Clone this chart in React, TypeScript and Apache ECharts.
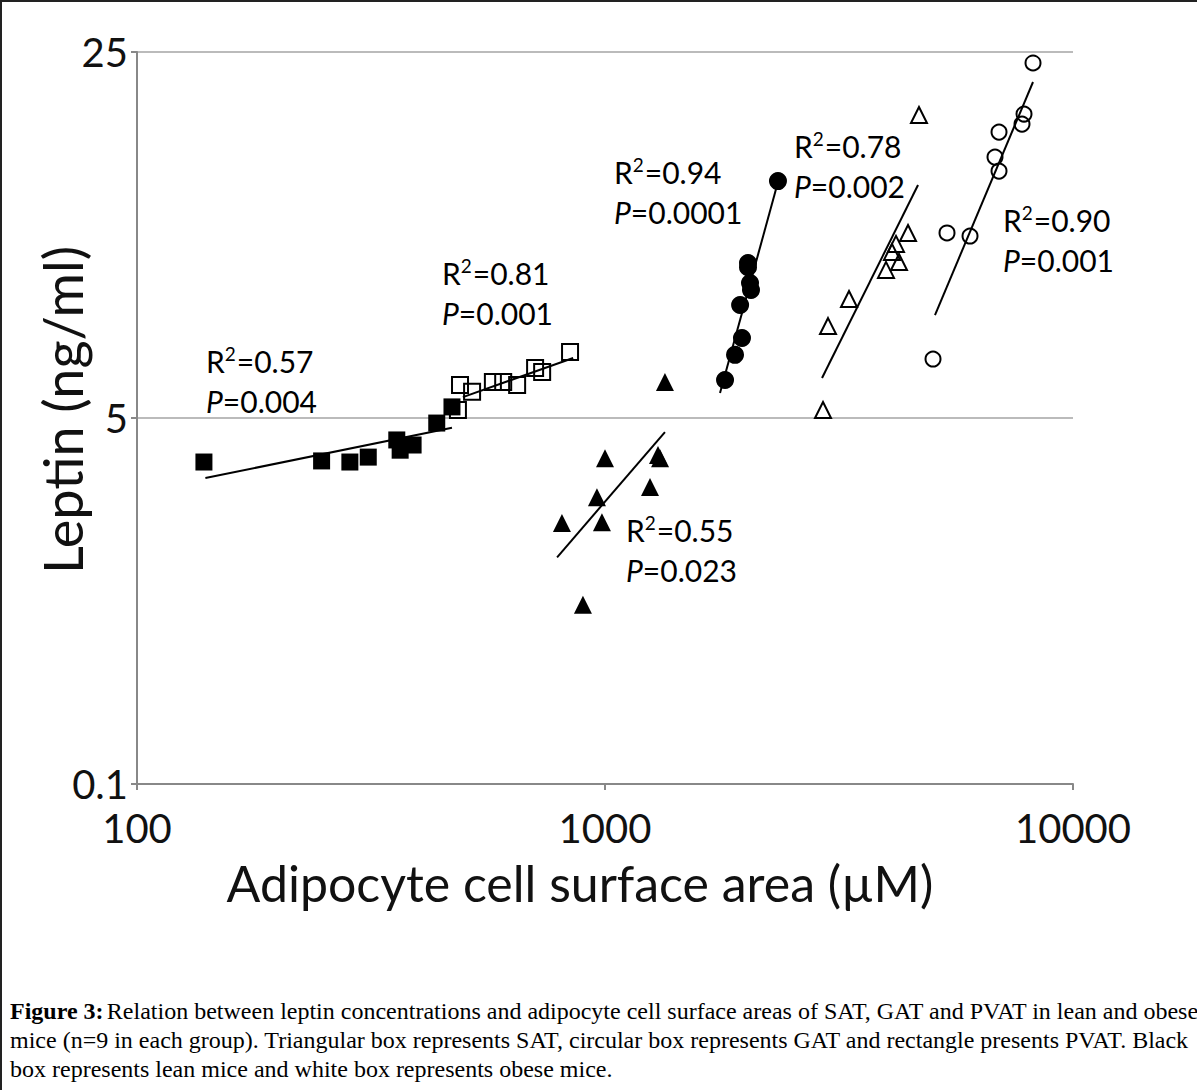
import React, { useEffect, useRef } from "react";
import * as echarts from "echarts";

// ---- data ----
const pvatLeanX = [139, 248, 285, 312, 359, 365, 389, 437, 471];
const pvatLeanY = [4.12, 4.14, 4.12, 4.21, 4.54, 4.34, 4.44, 4.89, 5.25];
const pvatObeseX = [485, 490, 520, 576, 606, 649, 709, 734, 842];
const pvatObeseY = [5.18, 5.78, 5.61, 5.86, 5.86, 5.78, 6.23, 6.12, 6.68];
const satLeanX = [809, 897, 961, 985, 1000, 1248, 1298, 1311, 1343];
const satLeanY = [3.15, 2.2, 3.53, 3.16, 4.19, 3.69, 4.25, 4.19, 5.86];
const gatLeanX = [1805, 1896, 1962, 1944, 2041, 2051, 2021, 2021, 2342];
const gatLeanY = [5.91, 6.6, 7.11, 8.22, 9.05, 8.78, 9.88, 9.7, 14.17];
const satObeseX = [2923, 2996, 3322, 3985, 4104, 4186, 4248, 4441, 4687];
const satObeseY = [5.18, 7.49, 8.44, 9.59, 10.38, 10.75, 9.93, 11.28, 18.95];
const gatObeseX = [5022, 5380, 6025, 6813, 6949, 6949, 7781, 7858, 8214];
const gatObeseY = [6.48, 11.28, 11.13, 15.75, 17.58, 14.81, 18.21, 19.03, 23.82];

// regression lines (end points)
const pvatLeanFitX = [140, 471];
const pvatLeanFitY = [3.84, 4.79];
const pvatObeseFitX = [497, 855];
const pvatObeseFitY = [5.48, 6.51];
const satLeanFitX = [790, 1343];
const satLeanFitY = [2.71, 4.7];
const gatLeanFitX = [1761, 2342];
const gatLeanFitY = [5.58, 14.11];
const satObeseFitX = [2909, 4665];
const satObeseFitY = [5.96, 13.93];
const gatObeseFitX = [5071, 8214];
const gatObeseFitY = [7.86, 21.91];

const statLabels = [
  { r2: "0.57", p: "0.004", x: 206, y: 344 },
  { r2: "0.81", p: "0.001", x: 442, y: 256 },
  { r2: "0.94", p: "0.0001", x: 614, y: 155 },
  { r2: "0.78", p: "0.002", x: 794, y: 129 },
  { r2: "0.90", p: "0.001", x: 1003, y: 203 },
  { r2: "0.55", p: "0.023", x: 626, y: 513 },
];

const xTickLabels = ["100", "1000", "10000"];
const yTickLabels: Record<string, string> = { "1": "0.1", "5": "5", "25": "25" };
const xTitle = "Adipocyte cell surface area (\u00b5M)";
const yTitle = "Leptin (ng/ml)";

const captionFirst =
  "Relation between leptin concentrations and adipocyte cell surface areas of SAT, GAT and PVAT in lean and obese";
const captionLines = [
  "mice (n=9 in each group). Triangular box represents SAT, circular box represents GAT and rectangle presents PVAT. Black",
  "box represents lean mice and white box represents obese mice.",
];

const zip = (xs: number[], ys: number[]) => xs.map((x, i) => [x, ys[i]]);

const FONT = "Lato";
const CAP = 24;

export default function App() {
  const ref = useRef<HTMLDivElement>(null);
  useEffect(() => {
    if (!ref.current) return;
    const chart = echarts.init(ref.current, undefined, { renderer: "svg" });

    const filled = (name: string, symbol: string, size: number, xs: number[], ys: number[]) => ({
      name,
      type: "scatter",
      symbol,
      symbolSize: size,
      data: zip(xs, ys),
      itemStyle: { color: "#000", opacity: 1 },
      z: 3,
    });
    const open = (name: string, symbol: string, size: number, xs: number[], ys: number[]) => ({
      name,
      type: "scatter",
      symbol,
      symbolSize: size,
      data: zip(xs, ys),
      itemStyle: { color: "rgba(255,255,255,0)", borderColor: "#000", borderWidth: 2, opacity: 1 },
      z: 3,
    });
    const fit = (name: string, xs: number[], ys: number[]) => ({
      name,
      type: "line",
      data: zip(xs, ys),
      symbol: "none",
      lineStyle: { color: "#000", width: 2 },
      z: 2,
    });

    const rich = {
      n: { fontSize: 30, fontFamily: FONT, color: "#333" },
      s: { fontSize: 19, fontFamily: FONT, color: "#333", verticalAlign: "top", padding: [0, 1, 15, 0] },
      i: { fontSize: 30, fontFamily: FONT, color: "#333", fontStyle: "italic" },
    };

    const statGraphics: any[] = [];
    statLabels.forEach((l) => {
      statGraphics.push({
        type: "text",
        x: l.x,
        y: l.y,
        style: { text: `{n|R}{s|2}{n|=${l.r2}}`, rich },
      });
      statGraphics.push({
        type: "text",
        x: l.x,
        y: l.y + 42,
        style: { text: `{i|P}{n|=${l.p}}`, rich },
      });
    });

    chart.setOption({
      animation: false,
      backgroundColor: "#fff",
      grid: { left: 137, right: 124, top: 52, bottom: 306, containLabel: false },
      xAxis: {
        type: "log",
        logBase: 10,
        min: 100,
        max: 10000,
        axisLine: { show: true, lineStyle: { color: "#888", width: 2 } },
        axisTick: { show: true, length: 6, lineStyle: { color: "#888", width: 2 } },
        minorTick: { show: false },
        splitLine: { show: false },
        axisLabel: {
          fontSize: 40,
          fontFamily: FONT,
          color: "#111",
          margin: 24,
          formatter: (v: number) => {
            const k = Math.round(Math.log10(v)) - 2;
            return xTickLabels[k] ?? String(v);
          },
        },
      },
      yAxis: {
        type: "log",
        logBase: 5,
        min: 1,
        max: 25,
        axisLine: { show: true, lineStyle: { color: "#888", width: 2 } },
        axisTick: { show: true, length: 6, lineStyle: { color: "#888", width: 2 } },
        splitLine: { show: true, lineStyle: { color: "#bbb", width: 2 } },
        axisLabel: {
          fontSize: 40,
          fontFamily: FONT,
          color: "#111",
          margin: 9,
          formatter: (v: number) => {
            const key = String(Math.round(v));
            return yTickLabels[key] ?? String(v);
          },
        },
      },
      series: [
        filled("PVAT lean", "rect", 17, pvatLeanX, pvatLeanY),
        open("PVAT obese", "rect", 16, pvatObeseX, pvatObeseY),
        filled("SAT lean", "triangle", 18, satLeanX, satLeanY),
        open("SAT obese", "triangle", 16, satObeseX, satObeseY),
        filled("GAT lean", "circle", 18, gatLeanX, gatLeanY),
        open("GAT obese", "circle", 15, gatObeseX, gatObeseY),
        fit("PVAT lean fit", pvatLeanFitX, pvatLeanFitY),
        fit("PVAT obese fit", pvatObeseFitX, pvatObeseFitY),
        fit("SAT lean fit", satLeanFitX, satLeanFitY),
        fit("GAT lean fit", gatLeanFitX, gatLeanFitY),
        fit("SAT obese fit", satObeseFitX, satObeseFitY),
        fit("GAT obese fit", gatObeseFitX, gatObeseFitY),
      ],
      graphic: [
        {
          type: "rect",
          shape: { x: 1, y: 1, width: 1300, height: 1300 },
          style: { fill: "none", stroke: "#222", lineWidth: 2 },
          silent: true,
        },
        {
          type: "text",
          x: 580,
          y: 883,
          style: {
            text: xTitle,
            fontSize: 50,
            fontFamily: FONT,
            fill: "#111",
            align: "center",
            verticalAlign: "middle",
          },
        },
        {
          type: "text",
          x: 62,
          y: 410,
          rotation: Math.PI / 2,
          style: {
            text: yTitle,
            fontSize: 54,
            fontFamily: FONT,
            fill: "#111",
            align: "center",
            verticalAlign: "middle",
          },
        },
        ...statGraphics,
        {
          type: "text",
          x: 10,
          y: 999,
          style: {
            text: `{b|Figure 3:} {r|${captionFirst}}`,
            rich: {
              b: { fontFamily: "Liberation Serif", fontSize: CAP, fontWeight: "bold", color: "#000" },
              r: { fontFamily: "Liberation Serif", fontSize: CAP, color: "#000" },
            },
          },
        },
        ...captionLines.map((t, i) => ({
          type: "text",
          x: 10,
          y: 1028 + i * 28.5,
          style: { text: t, fontFamily: "Liberation Serif", fontSize: CAP, fill: "#000" },
        })),
      ],
    });
    return () => chart.dispose();
  }, []);

  return (
    <div
      ref={ref}
      style={{ position: "absolute", left: 0, top: 0, width: 1197, height: 1090, background: "#fff" }}
    />
  );
}
